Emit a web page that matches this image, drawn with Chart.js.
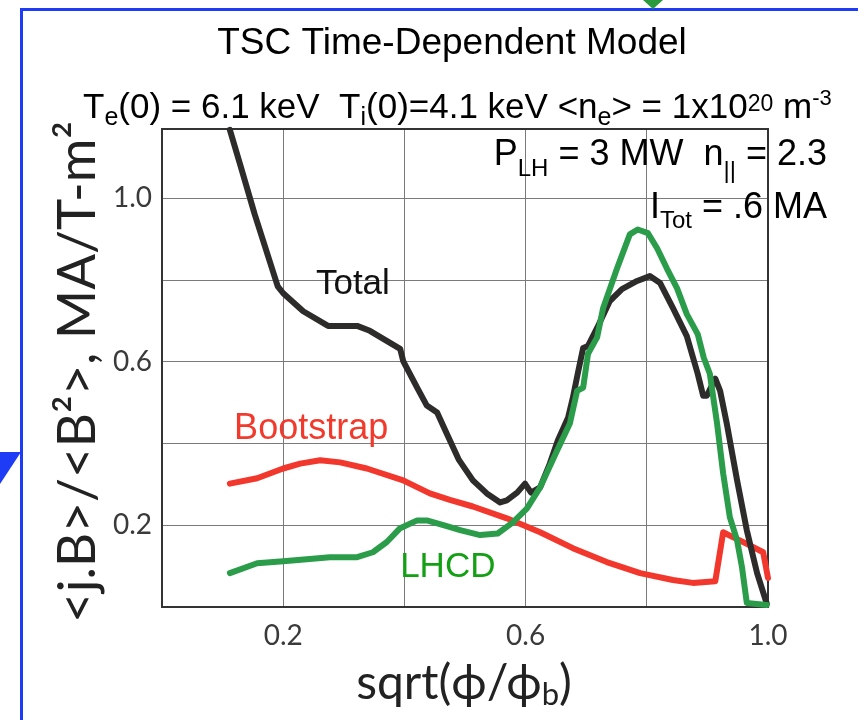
<!DOCTYPE html>
<html><head><meta charset="utf-8">
<script src="https://cdn.jsdelivr.net/npm/chart.js@4.4.1/dist/chart.umd.min.js"></script>
<style>html,body{margin:0;padding:0;background:#fff}#wrap{width:858px;height:720px;position:relative}</style>
</head><body><div id="wrap"><canvas id="c"></canvas></div>
<script>
// ---- data ----
const totalX = [0.112,0.129,0.153,0.191,0.200,0.233,0.274,0.322,0.343,0.393,0.398,0.421,0.437,0.454,0.470,0.490,0.513,0.536,0.558,0.569,0.586,0.599,0.609,0.624,0.640,0.653,0.670,0.678,0.686,0.695,0.703,0.718,0.739,0.759,0.784,0.805,0.822,0.843,0.866,0.884,0.893,0.899,0.913,0.921,0.932,0.949,0.965,0.982,0.998];
const totalY = [1.168,1.083,0.961,0.785,0.768,0.724,0.688,0.688,0.676,0.632,0.602,0.537,0.493,0.476,0.424,0.360,0.310,0.278,0.256,0.261,0.280,0.302,0.280,0.293,0.351,0.407,0.463,0.512,0.571,0.634,0.639,0.683,0.749,0.778,0.798,0.810,0.793,0.732,0.663,0.571,0.517,0.517,0.559,0.529,0.449,0.310,0.188,0.083,0.008];
const bootX = [0.112,0.157,0.200,0.228,0.261,0.294,0.338,0.398,0.442,0.475,0.513,0.569,0.624,0.678,0.734,0.789,0.843,0.876,0.913,0.926,0.942,0.970,0.992,1.000];
const bootY = [0.302,0.315,0.339,0.351,0.359,0.354,0.339,0.310,0.278,0.262,0.246,0.217,0.183,0.144,0.110,0.083,0.066,0.059,0.063,0.183,0.171,0.151,0.134,0.071];
const lhcdX = [0.112,0.157,0.200,0.239,0.277,0.322,0.348,0.371,0.393,0.421,0.437,0.470,0.492,0.525,0.554,0.579,0.602,0.624,0.652,0.673,0.685,0.695,0.703,0.718,0.728,0.751,0.772,0.785,0.802,0.817,0.833,0.850,0.866,0.884,0.894,0.904,0.916,0.926,0.937,0.949,0.957,0.965,0.998];
const lhcdY = [0.083,0.107,0.112,0.117,0.122,0.122,0.134,0.159,0.193,0.212,0.212,0.198,0.188,0.176,0.180,0.207,0.241,0.293,0.383,0.449,0.529,0.537,0.620,0.660,0.732,0.829,0.912,0.924,0.915,0.878,0.829,0.780,0.717,0.668,0.610,0.571,0.449,0.327,0.220,0.163,0.098,0.010,0.005];
const xTickLabels = [0.2, 0.6, 1.0];
const yTickLabels = [0.2, 0.6, 1.0];
const seriesNames = ['Total', 'Bootstrap', 'LHCD'];

const pts = (xs, ys) => xs.map((x, i) => ({x: x, y: ys[i]}));
const isLabel = (list, v) => list.some(t => Math.abs(t - v) < 1e-6);

const SANS = '"Liberation Sans", Arial, sans-serif';
const AX = 'Lato, "Open Sans", sans-serif';

function drawRuns(ctx, runs, x, y, align, family, color) {
  ctx.save();
  ctx.fillStyle = color;
  ctx.textBaseline = 'alphabetic';
  ctx.textAlign = 'left';
  let w = 0;
  runs.forEach(r => { ctx.font = r.size + 'px ' + family; r.w = ctx.measureText(r.t).width; w += r.w; });
  let cx = align === 'right' ? x - w : (align === 'center' ? x - w / 2 : x);
  runs.forEach(r => { ctx.font = r.size + 'px ' + family; ctx.fillText(r.t, cx, y + (r.dy || 0)); cx += r.w; });
  ctx.restore();
  return w;
}

const deco = {
  id: 'deco',
  beforeDraw(chart) {
    const ctx = chart.ctx;
    ctx.save();
    ctx.fillStyle = '#fff';
    ctx.fillRect(0, 0, chart.width, chart.height);
    // blue slide frame
    ctx.fillStyle = '#1e3cf5';
    ctx.fillRect(20, 8, 858 - 20, 3);
    ctx.fillRect(20, 8, 3, 720 - 8);
    ctx.beginPath();
    ctx.moveTo(0, 452); ctx.lineTo(21, 452); ctx.lineTo(0, 484); ctx.closePath(); ctx.fill();
    // green arrow tip at top
    ctx.fillStyle = '#2a9a3c';
    ctx.beginPath();
    ctx.moveTo(643, 0); ctx.lineTo(663, 0); ctx.lineTo(653, 9); ctx.closePath(); ctx.fill();
    ctx.restore();
  },
  beforeDatasetsDraw(chart) {
    const ctx = chart.ctx, a = chart.chartArea;
    ctx.save();
    ctx.strokeStyle = '#333';
    ctx.lineWidth = 2;
    ctx.strokeRect(a.left, a.top, a.right - a.left, a.bottom - a.top);
    ctx.restore();
  },
  afterDraw(chart) {
    const ctx = chart.ctx;
    const xs = chart.scales.x, ys = chart.scales.y;
    // title
    drawRuns(ctx, [{t: 'TSC Time-Dependent Model', size: 37}], 452, 54, 'center', SANS, '#000');
    // subtitle
    drawRuns(ctx, [
      {t: 'T', size: 35}, {t: 'e', size: 25, dy: 7}, {t: '(0) = 6.1 keV  T', size: 35},
      {t: 'i', size: 25, dy: 7}, {t: '(0)=4.1 keV <n', size: 35}, {t: 'e', size: 25, dy: 7},
      {t: '> = 1x10', size: 35}, {t: '20', size: 23, dy: -7}, {t: ' m', size: 35}, {t: '-3', size: 22, dy: -13}
    ], 83, 118, 'left', SANS, '#000');
    // parameters
    drawRuns(ctx, [
      {t: 'P', size: 36}, {t: 'LH', size: 24, dy: 11}, {t: ' = 3 MW  n', size: 36},
      {t: '||', size: 24, dy: 13}, {t: ' = 2.3', size: 36}
    ], 827, 165, 'right', SANS, '#000');
    drawRuns(ctx, [
      {t: 'I', size: 36}, {t: 'Tot', size: 24, dy: 10}, {t: ' = .6 MA', size: 36}
    ], 827, 218, 'right', SANS, '#000');
    // series labels placed in data coordinates
    drawRuns(ctx, [{t: seriesNames[0], size: 35}], xs.getPixelForValue(0.254), ys.getPixelForValue(0.766), 'left', SANS, '#111');
    drawRuns(ctx, [{t: seriesNames[1], size: 36}], xs.getPixelForValue(0.119), ys.getPixelForValue(0.410), 'left', SANS, '#f23a2c');
    drawRuns(ctx, [{t: seriesNames[2], size: 35}], xs.getPixelForValue(0.393), ys.getPixelForValue(0.073), 'left', SANS, '#14a014');
    // axis titles
    drawRuns(ctx, [{t: 'sqrt(ϕ/ϕ', size: 48}, {t: 'b', size: 31, dy: 6}, {t: ')', size: 48}], 464, 699, 'center', AX, '#222');
    ctx.save();
    ctx.translate(95, 372);
    ctx.rotate(-Math.PI / 2);
    drawRuns(ctx, [{t: '<j.B>/<B²>, MA/T-m²', size: 53}], 0, 0, 'center', AX, '#222');
    ctx.restore();
  }
};

const lineDs = (label, xs, ys, color, order) => ({
  label: label, data: pts(xs, ys), borderColor: color, backgroundColor: color,
  borderWidth: 6, pointRadius: 0, tension: 0, showLine: true, fill: false,
  borderJoinStyle: 'round', borderCapStyle: 'round', clip: false, order: order
});

new Chart(document.getElementById('c'), {
  type: 'scatter',
  data: {
    datasets: [
      lineDs(seriesNames[2], lhcdX, lhcdY, '#2b9c4a', 0),
      lineDs(seriesNames[0], totalX, totalY, '#2e2b2b', 1),
      lineDs(seriesNames[1], bootX, bootY, '#f2372d', 2)
    ]
  },
  options: {
    responsive: true, maintainAspectRatio: false, animation: false,
    layout: {padding: {left: 0, right: 90, top: 129, bottom: 0}},
    plugins: {legend: {display: false}, tooltip: {enabled: false}, title: {display: false}},
    scales: {
      x: {
        type: 'linear', min: 0, max: 1.0,
        afterFit: s => { s.height = 113; },
        border: {display: false},
        grid: {color: '#7a7a7a', lineWidth: 1, drawTicks: false},
        ticks: {stepSize: 0.2, autoSkip: false, padding: 12, color: '#3a3a3a',
          font: {family: AX, size: 28},
          callback: v => isLabel(xTickLabels, v) ? v.toFixed(1) : ''}
      },
      y: {
        type: 'linear', min: 0, max: 1.17,
        afterFit: s => { s.width = 162; },
        border: {display: false},
        grid: {color: '#7a7a7a', lineWidth: 1, drawTicks: false},
        ticks: {stepSize: 0.2, autoSkip: false, padding: 10, color: '#3a3a3a',
          font: {family: AX, size: 28},
          callback: v => isLabel(yTickLabels, v) ? v.toFixed(1) : ''}
      }
    }
  },
  plugins: [deco]
});
</script>
</body></html>
